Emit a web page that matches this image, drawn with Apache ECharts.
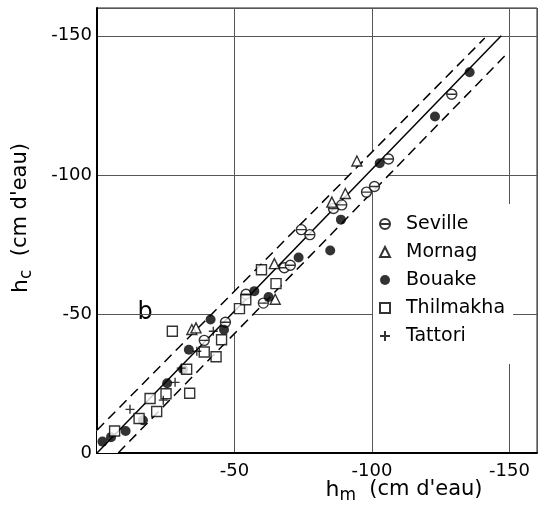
<!DOCTYPE html>
<html><head><meta charset="utf-8">
<script src="https://cdn.jsdelivr.net/npm/echarts@6/dist/echarts.min.js"></script>
<style>html,body{margin:0;padding:0;background:#fff}#c{width:541px;height:510px}</style>
</head><body><div id="c"></div>
<script>
// ---- data ----
const seriesNames = ['Seville', 'Mornag', 'Bouake', 'Thilmakha', 'Tattori'];
const seville = [[-39.0,-40.5],[-46.7,-47.0],[-54.2,-57.1],[-60.5,-53.9],[-68.1,-66.6],[-70.3,-67.5],[-74.3,-80.3],[-77.4,-78.5],[-86.0,-87.9],[-89.0,-89.2],[-98.0,-93.8],[-100.9,-95.8],[-106.0,-105.7],[-129.0,-129.0]];
const mornag = [[-34.5,-44.4],[-36.0,-45.0],[-64.5,-68.1],[-64.8,-55.3],[-85.4,-90.2],[-90.3,-93.3],[-94.5,-105.0]];
const bouake = [[-2.0,-4.1],[-5.1,-5.7],[-10.4,-7.9],[-16.7,-11.8],[-25.5,-25.1],[-31.3,-30.1],[-33.4,-37.1],[-41.3,-48.0],[-46.2,-44.3],[-57.2,-58.2],[-62.4,-56.1],[-73.3,-70.3],[-84.8,-72.8],[-88.7,-83.9],[-102.8,-104.2],[-122.9,-121.0],[-135.5,-136.9]];
const thilmakha = [[-6.4,-7.9],[-15.3,-12.4],[-21.7,-14.9],[-19.3,-19.6],[-25.1,-21.3],[-33.7,-21.5],[-32.6,-30.1],[-27.4,-43.8],[-39.0,-36.3],[-43.3,-34.6],[-45.3,-40.7],[-51.8,-51.9],[-54.1,-55.1],[-59.8,-65.9],[-65.1,-60.9]];
const tattori = [[-12.0,-15.7],[-24.1,-19.0],[-28.4,-25.4],[-30.6,-30.5],[-36.3,-36.6],[-42.3,-43.8]];
const oneToOne = [[0,0],[-147,-150]];
const upperBound = [[0,-8.2],[-141,-149.2]];
const lowerBound = [[-7.7,0],[-149.3,-143.8]];
const axisMin = -160, axisMax = 0;
const xTickLabels = [-150, -100, -50];
const yTickLabels = [-150, -100, -50, 0];

// ---- chart ----
const FF = 'DejaVu Sans';
const chart = echarts.init(document.getElementById('c'), null, {renderer: 'canvas'});
const sevillePath = 'path://M10,5A5,5,0,1,1,0,5A5,5,0,1,1,10,5ZM0.6,5L9.4,5';
const plusPath = 'path://M5,0L5,10M0,5L10,5';
const openStyle = {color: '#fff', borderColor: '#000', borderWidth: 1.4};
const band = upperBound.concat([lowerBound[1], lowerBound[0], oneToOne[0]]);

function scatter(name, data, symbol, size, style) {
  return {type: 'scatter', name, data, symbol, symbolSize: size, itemStyle: style, z: 5, emphasis: {disabled: true}, silent: true};
}
function refLine(data, dashed) {
  return {type: 'line', data, symbol: 'none', z: 3, silent: true, lineStyle: {color: '#000', width: 1.5, type: dashed ? [10, 6] : 'solid'}, emphasis: {disabled: true}};
}
const subText = (main, sub) => '{h|' + main + '}{s|' + sub + '}{t|  (cm d\'eau)}';
const rich = {
  h: {fontFamily: FF, fontSize: 22, lineHeight: 22, verticalAlign: 'top', fill: '#000'},
  s: {fontFamily: FF, fontSize: 17, lineHeight: 34, fill: '#000'},
  t: {fontFamily: FF, fontSize: 21, lineHeight: 22, verticalAlign: 'top', fill: '#000'}
};

chart.setOption({
  backgroundColor: '#fff',
  animation: false,
  grid: {left: 97, top: 8, right: 4, bottom: 57, show: true, borderColor: '#222', borderWidth: 1, backgroundColor: 'transparent'},
  xAxis: {
    type: 'value', min: axisMin, max: axisMax, inverse: true, splitNumber: 3,
    axisLine: {show: true, onZero: false, lineStyle: {color: '#000', width: 2}},
    axisTick: {show: false},
    splitLine: {show: true, lineStyle: {color: '#555', width: 1}},
    axisLabel: {margin: 9, color: '#000', fontFamily: FF, fontSize: 18,
      formatter: v => xTickLabels.includes(v) ? String(v) : ''}
  },
  yAxis: {
    type: 'value', min: axisMin, max: axisMax, inverse: true, splitNumber: 3,
    axisLine: {show: true, onZero: false, lineStyle: {color: '#000', width: 2}},
    axisTick: {show: false},
    splitLine: {show: true, lineStyle: {color: '#555', width: 1}},
    axisLabel: {margin: 5, color: '#000', fontFamily: FF, fontSize: 18,
      formatter: v => yTickLabels.includes(v) ? String(v) : ''}
  },
  legend: {
    orient: 'vertical', left: 373, top: 204, itemWidth: 10, itemHeight: 10, itemGap: 0,
    padding: [6, 8, 14, 6], backgroundColor: '#fff', selectedMode: false,
    textStyle: {fontFamily: FF, fontSize: 19, color: '#000', lineHeight: 16, padding: [0, 0, 12, 11]},
    data: seriesNames
  },
  graphic: [
    {type: 'text', x: 404, y: 496, silent: true, style: {text: subText('h', 'm'), rich, align: 'center', verticalAlign: 'middle'}},
    {type: 'text', x: 27, y: 218, rotation: Math.PI / 2, silent: true, style: {text: subText('h', 'c'), rich, align: 'center', verticalAlign: 'middle'}},
    {type: 'text', x: 145, y: 313, silent: true, style: {text: 'b', font: '24px "DejaVu Sans"', fill: '#000', align: 'center', verticalAlign: 'middle'}}
  ],
  series: [
    {type: 'custom', silent: true, z: 1, data: [[0, 0]],
      renderItem: (params, api) => ({type: 'polygon', shape: {points: band.map(p => api.coord(p))}, style: {fill: '#fff'}})},
    refLine(oneToOne, false),
    refLine(upperBound, true),
    refLine(lowerBound, true),
    scatter('Seville', seville, sevillePath, 10, openStyle),
    scatter('Mornag', mornag, 'triangle', 10, openStyle),
    scatter('Bouake', bouake, 'circle', 10, {color: '#000'}),
    scatter('Thilmakha', thilmakha, 'rect', 10, openStyle),
    scatter('Tattori', tattori, plusPath, 9, {color: '#000', borderColor: '#000', borderWidth: 1.4})
  ]
});
</script>
</body></html>
